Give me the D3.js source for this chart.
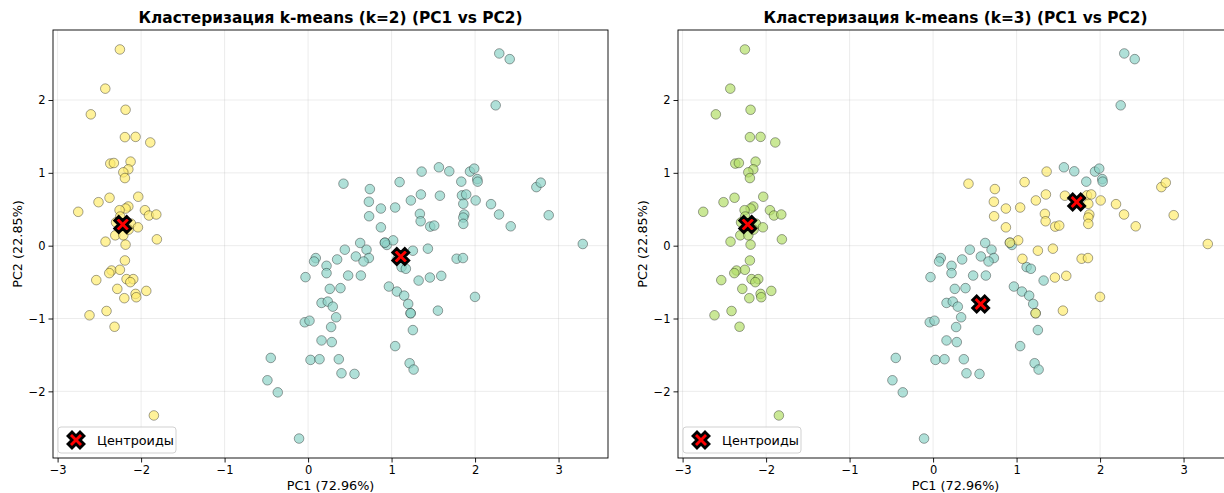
<!DOCTYPE html>
<html>
<head>
<meta charset="utf-8">
<script src="https://cdn.jsdelivr.net/npm/d3@7"></script>
<style>
  body { margin: 0; background: #fff; }
  text { font-family: "DejaVu Sans", sans-serif; }
</style>
</head>
<body>
<svg id="chart" width="1224" height="493"></svg>
<script>
// Principal component scores (first 50: one species, then 100 others)
const pc1Values = [
  -2.254,-2.429,-2.602,-2.186,-2.194,-2.066,-1.890,-2.369,-2.326,-2.126,
  -2.153,-2.213,-2.194,-2.034,-2.378,-2.510,-2.753,-1.954,-1.906,-1.818,
  -2.153,-2.186,-2.258,-2.122,-2.038,-2.309,-2.213,-2.426,-2.186,-1.811,
  -2.194,-2.354,-2.381,-2.254,-2.537,-2.174,-2.094,-2.129,-2.285,-1.938,
  -2.066,-2.058,-2.201,-2.414,-2.618,-2.318,-1.847,-2.300,-2.150,-2.250,
  1.360,0.424,0.740,1.096,1.351,1.231,0.728,0.872,1.043,1.339,
  1.348,0.731,0.872,0.624,0.920,0.944,1.019,1.255,0.440,0.700,
  0.572,0.728,0.664,0.092,0.072,0.348,0.221,0.221,0.480,0.632,
  -0.031,0.260,0.388,0.968,1.064,1.151,1.324,0.161,0.236,0.296,
  1.199,1.120,1.171,0.336,-0.040,0.017,0.276,0.161,0.284,-0.447,
  0.029,0.137,0.368,0.400,0.556,-0.487,-0.363,-0.108,1.228,1.255,
  1.043,1.216,1.264,2.290,2.415,2.247,1.567,1.691,1.939,1.990,
  2.026,2.031,1.835,2.734,2.787,1.579,1.843,1.894,2.007,1.859,
  2.191,1.871,1.859,1.859,2.287,2.882,1.463,1.511,2.427,3.290,
  1.435,1.779,1.855,1.459,1.595,1.555,1.999,1.070,0.920,1.228
];
const pc2Values = [
  2.694,2.156,1.803,1.866,1.490,1.494,1.417,1.127,1.135,1.154,
  1.048,1.007,0.928,0.672,0.658,0.597,0.465,0.487,0.414,0.428,
  0.538,0.510,0.487,0.303,0.252,0.142,0.142,0.055,0.014,0.087,
  -0.203,-0.341,-0.377,-0.331,-0.473,-0.459,-0.459,-0.501,-0.593,-0.621,
  -0.662,-0.708,-0.721,-0.897,-0.956,-1.113,-2.331,0.320,0.220,0.400,
  1.017,0.851,0.777,0.873,0.703,0.621,0.603,0.510,0.524,0.437,
  0.335,0.404,0.252,0.037,0.041,0.010,0.073,-0.069,-0.055,-0.055,
  -0.148,-0.170,-0.217,-0.170,-0.217,-0.189,-0.276,-0.377,-0.410,-0.410,
  -0.432,-0.593,-0.583,-0.561,-0.630,-0.686,-0.479,-0.786,-0.768,-0.837,
  -0.800,-0.294,-0.317,-0.983,-1.052,-1.030,-1.117,-1.301,-1.324,-1.541,
  -1.568,-1.559,-1.559,-1.752,-1.761,-1.848,-2.014,-2.648,-0.928,-1.159,
  -1.379,-1.614,-1.701,2.639,2.561,1.927,1.076,1.021,1.017,1.058,
  0.914,0.879,0.879,0.804,0.865,0.686,0.690,0.703,0.621,0.575,
  0.570,0.428,0.386,0.299,0.428,0.418,0.262,0.276,0.266,0.023,
  -0.041,-0.179,-0.170,-0.437,-0.414,-0.892,-0.703,-0.180,0.041,-0.928
];

// Cluster assignments
const clustersK2 = [
  1,1,1,1,1,1,1,1,1,1, 1,1,1,1,1,1,1,1,1,1, 1,1,1,1,1,1,1,1,1,1,
  1,1,1,1,1,1,1,1,1,1, 1,1,1,1,1,1,1,1,1,1,
  0,0,0,0,0,0,0,0,0,0, 0,0,0,0,0,0,0,0,0,0, 0,0,0,0,0,0,0,0,0,0,
  0,0,0,0,0,0,0,0,0,0, 0,0,0,0,0,0,0,0,0,0, 0,0,0,0,0,0,0,0,0,0,
  0,0,0,0,0,0,0,0,0,0, 0,0,0,0,0,0,0,0,0,0, 0,0,0,0,0,0,0,0,0,0,
  0,0,0,0,0,0,0,0,0,0
];
const clustersK3 = [
  1,1,1,1,1,1,1,1,1,1, 1,1,1,1,1,1,1,1,1,1, 1,1,1,1,1,1,1,1,1,1,
  1,1,1,1,1,1,1,1,1,1, 1,1,1,1,1,1,1,1,1,1,
  2,2,2,2,2,2,2,2,2,2, 2,2,2,0,0,0,2,2,0,0,
  0,0,0,0,0,0,0,0,0,0, 0,0,0,0,0,0,0,0,0,0,
  0,0,0,0,0,0,0,0,0,0, 0,0,0,0,0,0,0,0,0,0,
  0,0,0,0,0,0,0,0,0,0, 0,0,0,2,2,2,2,2,2,2,
  2,2,2,2,2,2,2,2,2,2, 2,2,2,2,2,2,2,2,2,2,
  2,2,2,0,2,0,2,0,0,0
];

// Cluster centres in PC space
const centroidsK2 = [[1.11, -0.15], [-2.22, 0.29]];
const centroidsK3 = [[0.57, -0.80], [-2.22, 0.29], [1.72, 0.60]];

const xTickValues = [-3, -2, -1, 0, 1, 2, 3];
const yTickValues = [-2, -1, 0, 1, 2];

const titles = [
  "Кластеризация k-means (k=2) (PC1 vs PC2)",
  "Кластеризация k-means (k=3) (PC1 vs PC2)"
];
const xAxisLabel = "PC1 (72.96%)";
const yAxisLabel = "PC2 (22.85%)";
const legendLabel = "Центроиды";

// Set3 colours picked at evenly spaced positions of the colormap
const set3 = ["#8dd3c7","#ffffb3","#bebada","#fb8072","#80b1d3","#fdb462",
              "#b3de69","#fccde5","#d9d9d9","#bc80bd","#ccebc5","#ffed6f"];
function clusterColor(label, k) {
  const t = k > 1 ? label / (k - 1) : 0;
  return set3[Math.min(11, Math.floor(t * 12))];
}

const svg = d3.select("#chart");
const plotW = 555, plotH = 428, plotTop = 30;
const minus = d => (d < 0 ? "\u2212" + Math.abs(d) : String(d));

// Filled "X" marker outline (unit size)
const xMarkerPts = [[0,-0.25],[0.25,-0.5],[0.5,-0.25],[0.25,0],[0.5,0.25],[0.25,0.5],
                    [0,0.25],[-0.25,0.5],[-0.5,0.25],[-0.25,0],[-0.5,-0.25],[-0.25,-0.5]];
function xMarkerPath(size) {
  return "M" + xMarkerPts.map(p => (p[0]*size).toFixed(2) + "," + (p[1]*size).toFixed(2)).join("L") + "Z";
}

function extentWithMargin(vals) {
  const [lo, hi] = d3.extent(vals);
  const m = (hi - lo) * 0.05;
  return [lo - m, hi + m];
}

function drawPanel(left, labels, centroids, k, title) {
  const allX = pc1Values.concat(centroids.map(c => c[0]));
  const allY = pc2Values.concat(centroids.map(c => c[1]));
  const x = d3.scaleLinear().domain(extentWithMargin(allX)).range([0, plotW]);
  const y = d3.scaleLinear().domain(extentWithMargin(allY)).range([plotH, 0]);

  const g = svg.append("g").attr("transform", `translate(${left},${plotTop})`);

  // points
  const pts = d3.range(pc1Values.length);
  g.append("g").selectAll("circle").data(pts).join("circle")
    .attr("cx", i => x(pc1Values[i]))
    .attr("cy", i => y(pc2Values[i]))
    .attr("r", 4.8)
    .attr("fill", i => clusterColor(labels[i], k))
    .attr("fill-opacity", 0.7)
    .attr("stroke", "#000")
    .attr("stroke-opacity", 0.6)
    .attr("stroke-width", 0.6);

  // grid
  const grid = g.append("g").attr("stroke", "#b0b0b0").attr("stroke-opacity", 0.3).attr("stroke-width", 0.8);
  grid.selectAll(".gx").data(xTickValues).join("line")
    .attr("x1", d => x(d)).attr("x2", d => x(d)).attr("y1", 0).attr("y2", plotH);
  grid.selectAll(".gy").data(yTickValues).join("line")
    .attr("y1", d => y(d)).attr("y2", d => y(d)).attr("x1", 0).attr("x2", plotW);

  // centroids
  g.append("g").selectAll("path").data(centroids).join("path")
    .attr("d", xMarkerPath(16))
    .attr("transform", c => `translate(${x(c[0])},${y(c[1])})`)
    .attr("fill", "#ff0000")
    .attr("stroke", "#000")
    .attr("stroke-width", 2.8)
    .attr("stroke-linejoin", "miter");

  // frame
  g.append("rect").attr("width", plotW).attr("height", plotH)
    .attr("fill", "none").attr("stroke", "#000").attr("stroke-width", 0.9);

  // axes
  const xAxis = d3.axisBottom(x).tickValues(xTickValues).tickFormat(minus).tickSize(4.5).tickPadding(3);
  const yAxis = d3.axisLeft(y).tickValues(yTickValues).tickFormat(minus).tickSize(4.5).tickPadding(3);
  const ax = g.append("g").attr("transform", `translate(0,${plotH})`).call(xAxis);
  const ay = g.append("g").call(yAxis);
  [ax, ay].forEach(a => {
    a.select(".domain").remove();
    a.selectAll("line").attr("stroke", "#000").attr("stroke-width", 0.9);
    a.selectAll("text").attr("font-size", 11.5).attr("fill", "#000")
      .style("font-family", '"DejaVu Sans", sans-serif');
  });

  // title and axis labels
  g.append("text").attr("x", plotW / 2).attr("y", -7).attr("text-anchor", "middle")
    .attr("font-size", 15.4).attr("font-weight", "bold").text(title);
  g.append("text").attr("x", plotW / 2).attr("y", plotH + 32).attr("text-anchor", "middle")
    .attr("font-size", 12.8).text(xAxisLabel);
  g.append("text").attr("transform", `translate(-31,${plotH / 2}) rotate(-90)`)
    .attr("text-anchor", "middle").attr("font-size", 12.8).text(yAxisLabel);

  // legend
  const lg = g.append("g").attr("transform", `translate(5,${plotH - 31})`);
  lg.append("rect").attr("width", 118).attr("height", 26).attr("rx", 3)
    .attr("fill", "#fff").attr("fill-opacity", 0.8).attr("stroke", "#cccccc").attr("stroke-width", 0.9);
  lg.append("path").attr("d", xMarkerPath(16)).attr("transform", "translate(18,13)")
    .attr("fill", "#ff0000").attr("stroke", "#000").attr("stroke-width", 2.8);
  lg.append("text").attr("x", 39).attr("y", 17.5).attr("font-size", 12.8).text(legendLabel);
}

drawPanel(53, clustersK2, centroidsK2, 2, titles[0]);
drawPanel(678, clustersK3, centroidsK3, 3, titles[1]);
</script>
</body>
</html>
